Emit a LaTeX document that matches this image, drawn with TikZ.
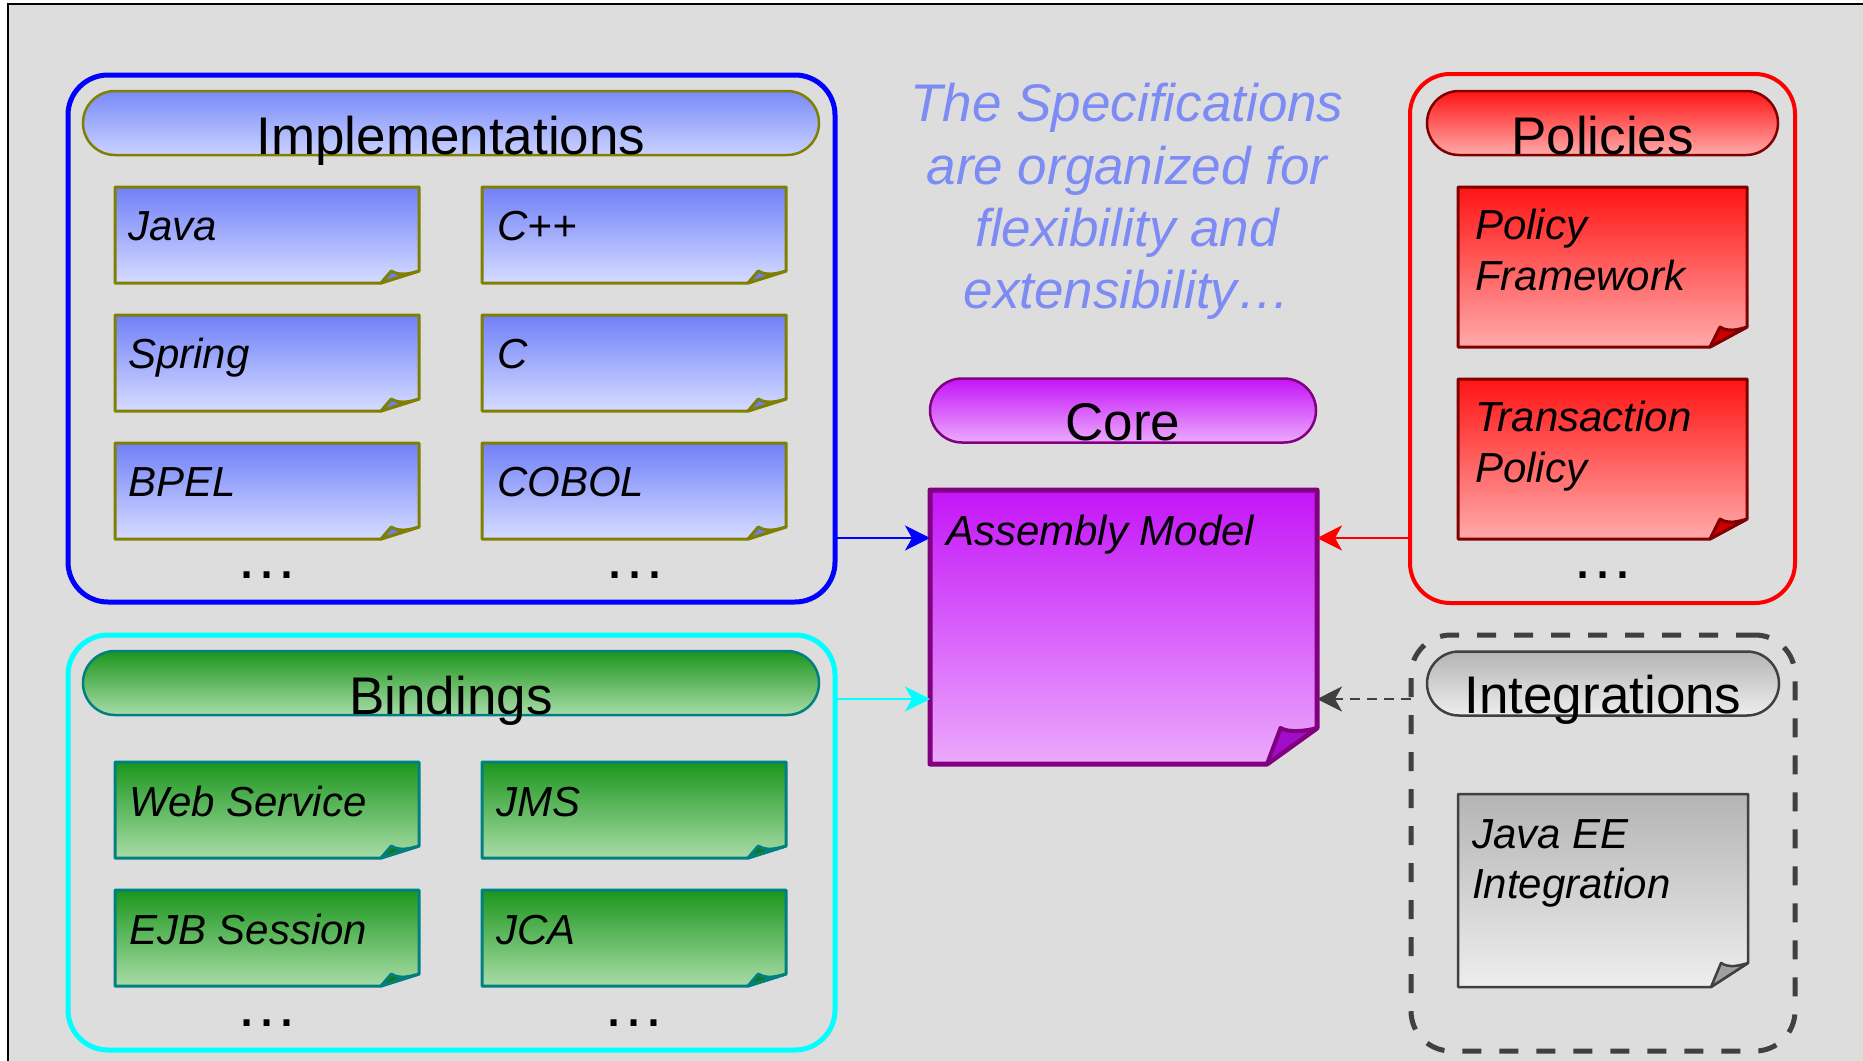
\documentclass[tikz,border=0pt]{standalone}
\usepackage{fontspec}
\setmainfont{Liberation Sans}
\usetikzlibrary{arrows.meta}
\definecolor{bg}{RGB}{221,221,221}
\definecolor{blueC}{RGB}{0,0,255}
\definecolor{cyanC}{RGB}{0,255,255}
\definecolor{redC}{RGB}{255,0,0}
\definecolor{dkgray}{RGB}{64,64,64}
\definecolor{implTop}{RGB}{112,128,248}
\definecolor{implBot}{RGB}{214,220,255}
\definecolor{implHdTop}{RGB}{120,138,248}
\definecolor{implHdBot}{RGB}{202,210,255}
\definecolor{oliveC}{RGB}{128,128,0}
\definecolor{implFlap}{RGB}{111,127,239}
\definecolor{grTop}{RGB}{28,150,28}
\definecolor{grBot}{RGB}{168,220,168}
\definecolor{tealC}{RGB}{0,128,128}
\definecolor{grFlap}{RGB}{20,120,20}
\definecolor{rdTop}{RGB}{255,20,20}
\definecolor{rdBot}{RGB}{255,170,170}
\definecolor{dkred}{RGB}{128,0,0}
\definecolor{rdFlap}{RGB}{200,0,0}
\definecolor{gyTop}{RGB}{180,180,180}
\definecolor{gyBot}{RGB}{238,238,238}
\definecolor{gyFlap}{RGB}{160,160,160}
\definecolor{puTop}{RGB}{196,20,248}
\definecolor{puBot}{RGB}{236,170,252}
\definecolor{purpC}{RGB}{128,0,128}
\definecolor{puFlap}{RGB}{160,12,200}
\definecolor{specC}{RGB}{125,140,245}
\newcommand\fnote[9]{%
  \node[minimum width={#6-#4}, minimum height={#7-#5}, inner sep=0pt, outer sep=0pt] (#3) at ({(#4+#6)/2},{(#5+#7)/2}) {};
  \path[#1] (#3.north west) -- (#3.north east) -- ([yshift=#9pt]#3.south east) -- ([xshift=-#8pt]#3.south east) -- (#3.south west) -- cycle;
  \filldraw[#2] ([xshift=-#8pt]#3.south east) -- ([xshift={-#8pt+0.27*#8pt}, yshift=#9pt]#3.south east) .. controls +(8pt,-5pt) and +(-10pt,-3pt) .. ([yshift=#9pt]#3.south east) -- cycle;
}
\newcommand\nfont{\fontsize{42}{51}\selectfont\itshape}
\newcommand\hfont{\fontsize{53}{64}\selectfont}
\newcommand\dfont{\fontsize{63}{63}\selectfont}
\begin{document}
\begin{tikzpicture}[x=1pt,y=-1pt,
  grp/.style={rectangle, rounded corners=40pt, line width=5pt, inner sep=0pt, outer sep=0pt},
  pill/.style={rectangle, rounded corners=32pt, line width=2.5pt, inner sep=0pt, outer sep=0pt},
  implnote/.style={draw=oliveC, line width=3pt, line join=round, top color=implTop, bottom color=implBot},
  implflap/.style={draw=oliveC, line width=3pt, line join=round, fill=implFlap},
  grnote/.style={draw=tealC, line width=3pt, line join=round, top color=grTop, bottom color=grBot},
  grflap/.style={draw=tealC, line width=3pt, line join=round, fill=grFlap},
  rdnote/.style={draw=dkred, line width=3pt, line join=round, top color=rdTop, bottom color=rdBot},
  rdflap/.style={draw=dkred, line width=3pt, line join=round, fill=rdFlap},
  gynote/.style={draw=dkgray, line width=2.5pt, line join=round, top color=gyTop, bottom color=gyBot},
  gyflap/.style={draw=dkgray, line width=2.5pt, line join=round, fill=gyFlap},
  punote/.style={draw=purpC, line width=5pt, line join=round, top color=puTop, bottom color=puBot},
  puflap/.style={draw=purpC, line width=4pt, line join=round, fill=puFlap},
  ntext/.style={font=\nfont, inner sep=0pt, anchor=base west},
  htext/.style={font=\hfont, inner sep=0pt, anchor=base},
  dots/.style={font=\dfont, inner sep=0pt, anchor=base},
  spec/.style={font=\fontsize{53}{63}\selectfont\itshape, text=specC, inner sep=0pt, anchor=base},
  arr/.style={line width=2pt, -{Stealth[length=25pt, width=25pt, inset=7pt]}}
]
\clip (0,0) rectangle (1863,1060);
\fill[white] (0,0) rectangle (1863,1060);
\filldraw[fill=bg, draw=black, line width=2pt] (8,4) rectangle (1900,1100);

% group boxes
\node[grp, draw=blueC, minimum width=767pt, minimum height=527pt] (impl) at (451.5,338.5) {};
\node[grp, draw=cyanC, minimum width=767pt, minimum height=415pt] (bind) at (451.5,842.5) {};
\node[grp, draw=redC, line width=4pt, minimum width=385pt, minimum height=529pt] (pol) at (1602.5,338.5) {};
\node[grp, draw=dkgray, dash pattern=on 19pt off 18pt, minimum width=384pt, minimum height=416pt] (int) at (1603,843) {};

% header pills
\node[pill, draw=oliveC, top color=implHdTop, bottom color=implHdBot, minimum width=736pt, minimum height=64pt] (implh) at (451,123) {};
\node[pill, draw=tealC, top color=grTop, bottom color=grBot, minimum width=736pt, minimum height=64pt] (bindh) at (451,683) {};
\node[pill, draw=dkred, top color=rdTop, bottom color=rdBot, minimum width=351pt, minimum height=64pt] (polh) at (1602.5,123) {};
\node[pill, draw=dkgray, top color=gyTop, bottom color=gyBot, minimum width=352pt, minimum height=64pt] (inth) at (1603,683.5) {};
\node[pill, draw=purpC, top color=puTop, bottom color=puBot, minimum width=386pt, minimum height=64pt] (coreh) at (1123,410.5) {};

\node[htext] (implht) at ([yshift=1pt]implh.south) {Implementations};
\node[htext] (bindht) at ([yshift=1pt]bindh.south) {Bindings};
\node[htext] (polht) at ([yshift=1pt]polh.south) {Policies};
\node[htext] (intht) at ([yshift=2pt]inth.south) {Integrations};
\node[htext] (coreht) at ([yshift=2pt]coreh.south) {Core};

% implementation notes
\fnote{implnote}{implflap}{java}{115}{187}{419}{283}{38}{12}
\fnote{implnote}{implflap}{cpp}{482}{187}{786}{283}{38}{12}
\fnote{implnote}{implflap}{spring}{115}{315}{419}{411}{38}{12}
\fnote{implnote}{implflap}{cc}{482}{315}{786}{411}{38}{12}
\fnote{implnote}{implflap}{bpel}{115}{443}{419}{539}{38}{12}
\fnote{implnote}{implflap}{cobol}{482}{443}{786}{539}{38}{12}
\node[ntext] (javat) at (128,240) {Java};
\node[ntext] (cppt) at (497,240) {C++};
\node[ntext] (springt) at (128,368) {Spring};
\node[ntext] (cct) at (497,368) {C};
\node[ntext] (bpelt) at (128,496) {BPEL};
\node[ntext] (cobolt) at (497,496) {COBOL};
\node[dots] (impld1) at (267,578) {…};
\node[dots] (impld2) at (635,578) {…};

% binding notes
\fnote{grnote}{grflap}{ws}{115}{762}{419}{858}{38}{12}
\fnote{grnote}{grflap}{jms}{482}{762}{786}{858}{38}{12}
\fnote{grnote}{grflap}{ejb}{115}{890}{419}{986}{38}{12}
\fnote{grnote}{grflap}{jca}{482}{890}{786}{986}{38}{12}
\node[ntext] (wst) at (129,816) {Web Service};
\node[ntext] (jmst) at (496,816) {JMS};
\node[ntext] (ejbt) at (129,944) {EJB Session};
\node[ntext] (jcat) at (496,944) {JCA};
\node[dots] (bindd1) at (267,1026) {…};
\node[dots] (bindd2) at (634,1026) {…};

% policy notes
\fnote{rdnote}{rdflap}{pf}{1458}{187}{1747}{347}{37}{20}
\fnote{rdnote}{rdflap}{tp}{1458}{379}{1747}{539}{37}{20}
\node[ntext] (pft1) at (1475,239) {Policy};
\node[ntext] (pft2) at (1475,290) {Framework};
\node[ntext] (tpt1) at (1475,431) {Transaction};
\node[ntext] (tpt2) at (1475,482) {Policy};
\node[dots] (pold) at (1603,578) {…};

% integration note
\fnote{gynote}{gyflap}{jee}{1458}{794}{1748}{987}{37}{24}
\node[ntext] (jeet1) at (1472,848) {Java EE};
\node[ntext] (jeet2) at (1472,898) {Integration};

% assembly model
\fnote{punote}{puflap}{asm}{930}{490}{1317}{764}{50}{36}
\node[ntext] (asmt) at (946,545) {Assembly Model};

% specification text
\node[spec] (s1) at (1127,121) {The Specifications};
\node[spec] (s2) at (1127,184) {are organized for};
\node[spec] (s3) at (1127,246) {flexibility and};
\node[spec] (s4) at (1127,308) {extensibility…};

% connectors
\coordinate (inA) at ([yshift=89pt]asm.west);
\coordinate (inB) at ([yshift=-72pt]asm.west);
\coordinate (inC) at ([yshift=89pt]asm.east);
\coordinate (inD) at ([yshift=-72pt]asm.east);
\draw[arr, draw=blueC] (impl.east |- inA) -- (inA);
\draw[arr, draw=cyanC] (bind.east |- inB) -- (inB);
\draw[arr, draw=redC] (pol.west |- inC) -- (inC);
\draw[arr, draw=dkgray, dash pattern=on 10pt off 7pt] (int.west |- inD) -- (inD);
\end{tikzpicture}
\end{document}
